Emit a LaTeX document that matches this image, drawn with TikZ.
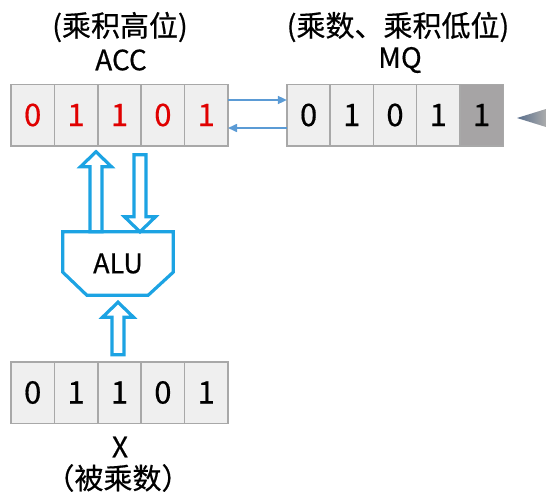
\documentclass[tikz,border=0pt]{standalone}
\usepackage{fontspec}
\newfontfamily\cjk[FakeBold=0.5]{Noto Sans CJK SC}
\usetikzlibrary{positioning,calc,arrows.meta}
\definecolor{cellgray}{HTML}{EFEFEF}
\definecolor{cellline}{HTML}{A8A8A8}
\definecolor{lowgray}{HTML}{A6A4A5}
\definecolor{alublue}{HTML}{1CA3E3}
\definecolor{linkblue}{HTML}{5B9BD5}
\definecolor{bitred}{HTML}{E00000}

\begin{document}
\begin{tikzpicture}[x=1pt, y=-1pt,
			cell/.style={draw=cellline, line width=1.5pt, fill=cellgray, minimum width=43.4pt, minimum height=61.5pt, inner sep=0pt, outer sep=0pt, font=\cjk\fontsize{31}{31}\selectfont},
			regname/.style={font=\cjk\fontsize{28}{28}\selectfont, inner sep=0pt},
			regnote/.style={font=\cjk\fontsize{29}{29}\selectfont, inner sep=0pt},
			alu/.style={minimum width=110pt, minimum height=63pt, inner sep=0pt, font=\cjk\fontsize{27}{27}\selectfont},
			aluline/.style={draw=alublue, line width=3.2pt, line join=miter},
			link/.style={draw=linkblue, line width=1.6pt, -{Triangle[length=9pt, width=8pt]}},
			block/.style={draw=alublue, line width=3.2pt, fill=white, line join=miter,
				to path={
					($(\tikztostart)!6pt!90:(\tikztotarget)$)
					-- ($(\tikztotarget)!15pt!(\tikztostart)!6pt!90:(\tikztotarget)$)
					-- ($(\tikztotarget)!15pt!(\tikztostart)!15.5pt!90:(\tikztotarget)$)
					-- (\tikztotarget)
					-- ($(\tikztotarget)!15pt!(\tikztostart)!15.5pt!-90:(\tikztotarget)$)
					-- ($(\tikztotarget)!15pt!(\tikztostart)!6pt!-90:(\tikztotarget)$)
					-- ($(\tikztostart)!6pt!-90:(\tikztotarget)$) -- cycle}}
			]
			\useasboundingbox (0,0) rectangle (546,503);
			
			% ACC register
			\node[regnote] (accnote) at (120,27) {(乘积高位)};
			\node[regname] (accname) at (121,60) {ACC};
			\foreach \b [count=\i] in {0,1,1,0,1}
				\node[cell, text=bitred] (acc\i) at ({-10.7+43.4*\i},115) {\b};
			
			% MQ register
			\node[regnote] (mqnote) at (398,27) {(乘数、乘积低位)};
			\node[regname] (mqname) at (400,60) {MQ};
			\foreach \b [count=\i] in {0,1,0,1}
				\node[cell] (mq\i) at ({265.4+43.2*\i},115) {\b};
			\node[cell, fill=lowgray, right=0pt of mq4] (mq5) {1};
			
			% pointer at the right edge
			\shade[left color={rgb,255:red,88;green,110;blue,140}, right color=gray!65] (517,118) -- (546,109) -- (546,127) -- cycle;
			
			% X register
			\foreach \b [count=\i] in {0,1,1,0,1}
				\node[cell] (x\i) at ({-10.7+43.4*\i},392.5) {\b};
			\node[regname] (xname) at (120,447) {X};
			\node[regnote] (xnote) at (118,478) {（被乘数）};
			
			% ALU
			\node[alu] (alu) at (118,263.5) {ALU};
			\draw[aluline] (alu.north west) -- (alu.north east) -- ([yshift=23pt]alu.south east) -- ([xshift=-25pt]alu.south east) -- ([xshift=24pt]alu.south west) -- ([yshift=23pt]alu.south west) -- cycle;
			
			% ACC <-> MQ
			\draw[link] ([yshift=15pt]acc5.east) -- ([yshift=15pt]mq1.west);
			\draw[link] ([yshift=-13pt]mq1.west) -- ([yshift=-13pt]acc5.east);
			
			% ALU <-> ACC, X -> ALU
			\coordinate (upfoot) at ([xshift=-22pt]alu.north);
			\coordinate (uptip) at ([yshift=-6pt]upfoot |- acc2.south);
			\coordinate (downtip) at ([xshift=22pt]alu.north);
			\coordinate (downfoot) at ([yshift=-9pt]downtip |- acc3.south);
			\coordinate (intip) at ([yshift=-7pt]alu.south);
			\coordinate (infoot) at ([yshift=7pt]intip |- x3.north);
			\draw[block] (upfoot) to (uptip);
			\draw[block] (downfoot) to (downtip);
			\draw[block] (infoot) to (intip);
			
		\end{tikzpicture}
\end{document}
